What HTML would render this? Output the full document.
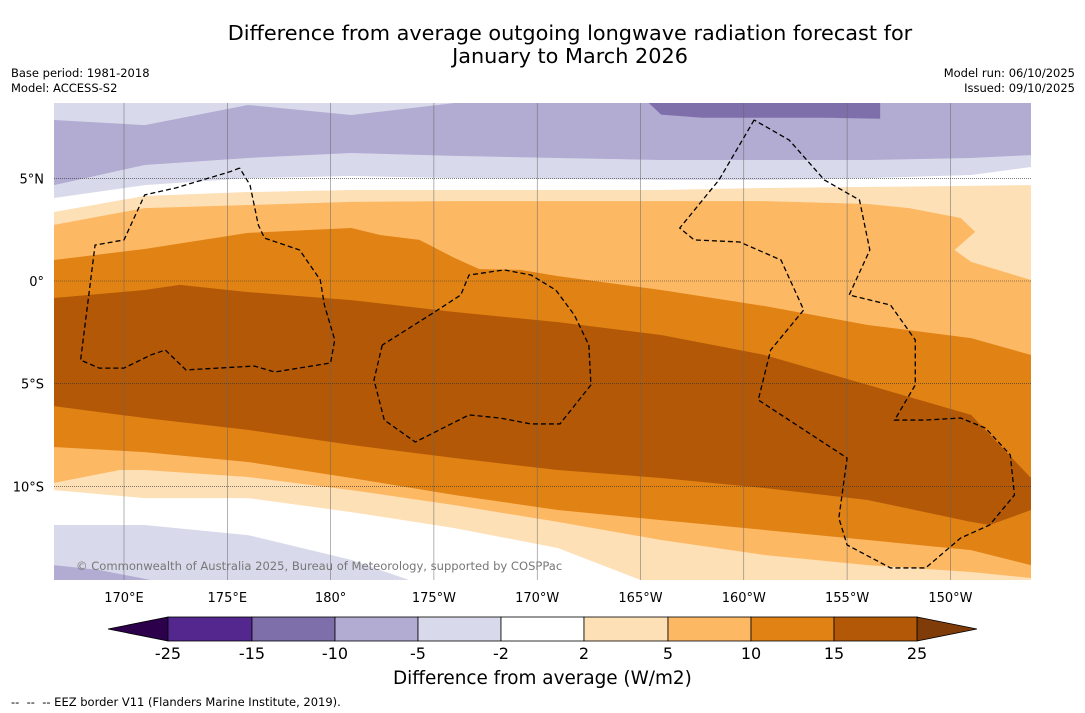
<!DOCTYPE html>
<html><head><meta charset="utf-8">
<style>
body{margin:0;background:#fff;font-family:"DejaVu Sans","Liberation Sans",sans-serif;}
#wrap{position:relative;width:1085px;height:713px;overflow:hidden;background:#fff}
.t{position:absolute;white-space:nowrap;color:#000}
</style></head><body>
<div id="wrap">
<div class="t" style="left:0;width:1140px;top:22px;text-align:center;font-size:20.8px;line-height:23px">Difference from average outgoing longwave radiation forecast for<br>January to March 2026</div>
<div class="t" style="left:11px;top:66px;font-size:11.5px;line-height:15px">Base period: 1981-2018<br>Model: ACCESS-S2</div>
<div class="t" style="right:10px;top:66px;font-size:11.5px;line-height:15px;text-align:right">Model run: 06/10/2025<br>Issued: 09/10/2025</div>
<svg id="svg" width="1085" height="713" style="position:absolute;left:0;top:0"></svg>
<div class="t" style="left:76px;top:559px;font-size:11.55px;color:#777">© Commonwealth of Australia 2025, Bureau of Meteorology, supported by COSPPac</div>
<div class="t" style="left:393px;top:668px;font-size:18.4px">Difference from average (W/m2)</div>
<div class="t" style="left:11px;top:695px;font-size:11.5px">--&nbsp; --&nbsp; -- EEZ border V11 (Flanders Marine Institute, 2019).</div>
</div>
<script>
const lonTicks=[170,175,180,185,190,195,200,205,210];
const lonLabels=["170°E","175°E","180°","175°W","170°W","165°W","160°W","155°W","150°W"];
const latTicks=[5,0,-5,-10];
const latLabels=["5°N","0°","5°S","10°S"];
const cbLevels=["-25","-15","-10","-5","-2","2","5","10","15","25"];
const cbColors=["#54278f","#7e6fab","#b2abd2","#d8daeb","#ffffff","#fee0b6","#fdb863","#e08214","#b35806"];
const layerColors=["#b2abd2","#d8daeb","#ffffff","#fee0b6","#fdb863","#e08214","#b35806","#e08214","#fdb863","#fee0b6","#ffffff","#d8daeb","#b2abd2"];
const B1=[[166.6,7.84],[171,7.59],[176,8.57],[181,8.08],[186,8.67],[214,8.67]];
const B2=[[166.6,4.67],[171,5.65],[176,5.99],[181,6.23],[186,6.09],[191,5.99],[196,5.89],[201,5.89],[206,5.89],[211,5.99],[213.9,6.13]];
const B3=[[166.6,4.04],[171,4.67],[176,5.01],[181,5.11],[186,5.01],[191,4.97],[196,4.92],[201,4.92],[206,5.01],[211,5.16],[213.9,5.55]];
const B4=[[166.6,3.36],[171,4.14],[176,4.33],[181,4.43],[186,4.43],[191,4.43],[196,4.43],[201,4.53],[206,4.58],[211,4.63],[213.9,4.67]];
const B5=[[166.6,2.73],[171,3.55],[176,3.70],[181,3.85],[186,3.89],[191,3.89],[196,3.89],[201,3.89],[206,3.75],[208,3.55],[210.5,3.07],[211.2,2.39],[210.2,1.51],[211,0.93],[213.9,0.05]];
const B6=[[166.6,1.02],[171,1.56],[176,2.34],[181,2.58],[182.4,2.24],[184.3,2.0],[186,1.12],[187.2,0.58],[189.2,0.54],[191,0.24],[196,-0.44],[201,-1.22],[206,-2.14],[211,-2.78],[213.9,-3.6]];
const B7=[[166.6,-0.83],[171,-0.44],[172.7,-0.19],[176,-0.54],[181,-0.93],[186,-1.51],[191,-2.0],[196,-2.63],[201,-3.6],[206,-5.06],[211,-6.52],[213.9,-9.59]];
const B8=[[166.6,-6.09],[171,-6.67],[176,-7.25],[181,-7.98],[186,-8.62],[191,-9.2],[196,-9.59],[201,-10.08],[206,-10.66],[211,-11.73],[211.9,-11.88],[213.9,-11.15]];
const B9=[[166.6,-8.08],[171,-8.33],[176,-8.81],[181,-9.59],[186,-10.42],[191,-11.15],[196,-11.64],[201,-12.12],[206,-12.61],[211,-13.1],[213.9,-13.83]];
const B10=[[166.6,-9.83],[169.8,-9.2],[171,-9.2],[176,-9.54],[181,-10.18],[186,-10.91],[191,-11.73],[196,-12.61],[201,-13.34],[206,-13.83],[211,-14.17],[213.9,-14.46]];
const B11=[[166.6,-10.18],[171,-10.57],[176,-10.57],[181,-11.25],[186,-12.03],[191,-13.0],[195,-14.6],[214,-14.6]];
const B12=[[166.6,-11.88],[171,-11.88],[176,-12.37],[181,-13.58],[183.8,-14.6],[214,-14.6]];
const B13=[[166.6,-13.83],[168.8,-14.07],[171.3,-14.6],[214,-14.6]];
const blob=[[195.4,8.67],[196,8.1],[198,7.95],[201,7.95],[204,7.95],[206.6,7.9],[206.6,8.67]];
const eez1=[[175.6,5.5],[175.1,5.31],[172.5,4.53],[171.0,4.19],[170.0,2.0],[168.6,1.75],[167.9,-3.85],[168.8,-4.24],[170.0,-4.24],[171.3,-3.6],[172.0,-3.36],[173.0,-4.33],[176.3,-4.14],[177.3,-4.43],[180.0,-3.99],[180.2,-2.87],[179.7,-1.17],[179.5,0.05],[178.5,1.51],[176.8,2.09],[176.5,2.73],[176.1,4.67],[175.6,5.5]];
const eez2=[[182.5,-3.12],[182.1,-4.82],[182.6,-6.77],[184.1,-7.84],[186.7,-6.52],[188.2,-6.67],[189.7,-6.96],[191.1,-6.96],[192.6,-5.06],[192.5,-3.12],[191.8,-1.66],[190.9,-0.44],[189.7,0.29],[188.4,0.54],[186.7,0.29],[186.3,-0.68],[184.8,-1.66],[182.5,-3.12]];
const eez3=[[200.5,7.84],[198.8,4.92],[196.9,2.58],[197.6,2.0],[199.8,1.9],[201.8,1.02],[202.9,-1.41],[201.3,-3.36],[200.7,-5.79],[205.0,-8.62],[204.6,-11.54],[205.0,-12.85],[207.1,-13.97],[208.8,-13.97],[210.5,-12.51],[211.9,-11.88],[213.1,-10.42],[212.9,-8.47],[211.7,-7.16],[210.5,-6.67],[208.8,-6.77],[207.3,-6.77],[208.3,-5.06],[208.3,-2.87],[207.1,-1.17],[205.1,-0.68],[206.1,1.51],[205.6,3.94],[203.9,4.92],[202.2,6.86],[200.5,7.84]];

const X0=54,X1=1031,Y0=103,Y1=580;
const xS=lon=>124+(lon-170)*20.66;
const yS=lat=>281-lat*20.54;
const cx=v=>Math.max(X0,Math.min(X1,xS(v)));
const cy=v=>Math.max(Y0,Math.min(Y1,yS(v)));
const NS="http://www.w3.org/2000/svg";
const FF="DejaVu Sans, Liberation Sans, sans-serif";
const svg=document.getElementById('svg');
function mk(tag,at,parent){const e=document.createElementNS(NS,tag);for(const k in at)e.setAttribute(k,at[k]);(parent||svg).appendChild(e);return e;}
const defs=mk('defs',{});const cp=mk('clipPath',{id:'clip'},defs);mk('rect',{x:X0,y:Y0,width:X1-X0,height:Y1-Y0},cp);
const g=mk('g',{'clip-path':'url(#clip)'});
let bg=mk('rect',{x:X0,y:Y0,width:X1-X0,height:Y1-Y0,fill:'#d8daeb'},g);


const bounds=[B1,B2,B3,B4,B5,B6,B7,B8,B9,B10,B11,B12,B13];
bounds.forEach((b,i)=>{
  let pts=b.map(p=>cx(p[0])+','+cy(p[1]));
  pts.push((X1+5)+','+cy(b[b.length-1][1]));pts.push((X1+5)+','+(Y1+5));pts.push((X0-5)+','+(Y1+5));pts.push((X0-5)+','+cy(b[0][1]));
  const p=mk('polygon',{points:pts.join(' '),fill:layerColors[i]},g);
  
  
});
const bl=mk('polygon',{points:blob.map(p=>cx(p[0])+','+cy(p[1])).join(' '),fill:'#7e6fab'},g);


lonTicks.forEach((l,i)=>{
  const x=xS(l);
  const ln=mk('line',{x1:x,x2:x,y1:Y0,y2:Y1,stroke:'#666','stroke-width':0.5},g);
  
  
  const t=mk('text',{x:x,y:602,'text-anchor':'middle','font-size':13,'font-family':FF});
  t.textContent=lonLabels[i];
  
  
});
latTicks.forEach((l,i)=>{
  const y=yS(l);
  const ln=mk('line',{x1:X0,x2:X1,y1:y,y2:y,stroke:'#333','stroke-width':0.6,'stroke-dasharray':'1,1'},g);
  
  
  const t=mk('text',{x:44,y:y+5,'text-anchor':'end','font-size':13,'font-family':FF});
  t.textContent=latLabels[i];
  
  
});
[eez1,eez2,eez3].forEach(e=>{
  const pl=mk('polyline',{points:e.map(p=>xS(p[0])+','+yS(p[1])).join(' '),fill:'none',stroke:'#000','stroke-width':1.3,'stroke-dasharray':'5,3'},g);
  
  
});
const cbX=[168,252,335,418,501,584,668,751,834,917];
const cbY=617,cbH=24;
let lt=mk('polygon',{points:`108,${cbY+cbH/2} 168,${cbY} 168,${cbY+cbH}`,fill:'#2d004b',stroke:'#000','stroke-width':0.8});


let rt=mk('polygon',{points:`977,${cbY+cbH/2} 917,${cbY} 917,${cbY+cbH}`,fill:'#7f3b08',stroke:'#000','stroke-width':0.8});


cbColors.forEach((c,i)=>{
  const r=mk('rect',{x:cbX[i],y:cbY,width:cbX[i+1]-cbX[i],height:cbH,fill:c,stroke:'#000','stroke-width':0.8});
  
  
});
cbLevels.forEach((s,i)=>{
  const t=mk('text',{x:cbX[i],y:659,'text-anchor':'middle','font-size':16,'font-family':FF});
  t.textContent=s;
  
  
});
</script>
</body></html>
